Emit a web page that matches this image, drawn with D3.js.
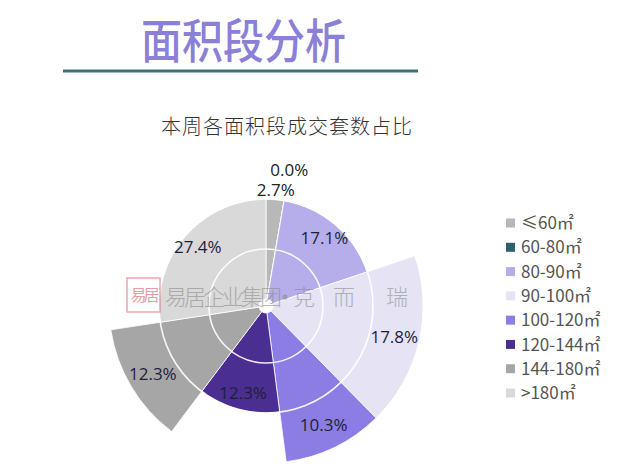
<!DOCTYPE html>
<html><head><meta charset="utf-8">
<script src="https://cdn.jsdelivr.net/npm/d3@7"></script>
<style>
html,body{margin:0;padding:0;background:#fff;}
svg{display:block;}
</style></head>
<body>
<svg id="chart" width="625" height="475"></svg>
<script>
// ---- data ----
const categories = ["≤60㎡","60-80㎡","80-90㎡","90-100㎡","100-120㎡","120-144㎡","144-180㎡",">180㎡"];
const shares     = [2.7, 0.0, 17.1, 17.8, 10.3, 12.3, 12.3, 27.4];
const rings      = [2, 2, 2, 3, 3, 2, 3, 2];   // how many rings each sector reaches
const colors     = ["#b8b8b8","#2e6070","#b5aeea","#e6e3f5","#8b7de3","#4b2e91","#a6a6a6","#d9d9d9"];
const mainTitle  = "面积段分析";
const subTitle   = "本周各面积段成交套数占比";

const svg = d3.select("#chart");
const cx = 266, cy = 306;

// title
svg.append("text").attr("x", 141).attr("y", 58)
  .attr("font-family","'Noto Sans CJK SC'").attr("font-weight",500)
  .attr("font-size",41).attr("fill","#8b80d8")
  .attr("transform","translate(0,-8) scale(1,1.13)")
  .text(mainTitle);
svg.append("line").attr("x1",63).attr("x2",418).attr("y1",71).attr("y2",71)
  .attr("stroke","#3f6e7e").attr("stroke-width",3);

svg.append("text").attr("x", 287).attr("y", 134).attr("text-anchor","middle")
  .attr("font-family","'Noto Sans CJK SC'").attr("font-weight",300)
  .attr("font-size",20).attr("letter-spacing",1).attr("fill","#333")
  .text(subTitle);

// scales
const r = d3.scaleLinear().domain([0,3]).range([7,157]);
const pie = d3.pie().sort(null).value(d => d.v).startAngle(0).endAngle(2*Math.PI);
const data = categories.map((c,i)=>({c, v: shares[i], ring: rings[i], color: colors[i]}));
const arcs = pie(data);
const arc = d3.arc().innerRadius(r(0)).outerRadius(d => r(d.data.ring));

const g = svg.append("g").attr("transform",`translate(${cx},${cy})`);
g.selectAll("path.sector").data(arcs).join("path").attr("class","sector")
  .attr("d", arc).attr("fill", d=>d.data.color)
  .attr("stroke","#fff").attr("stroke-width",1).attr("stroke-opacity",0.8);

// ring gridlines
g.selectAll("circle.grid").data([1,2]).join("circle").attr("class","grid")
  .attr("r", d=>r(d)).attr("fill","none").attr("stroke","#fff").attr("stroke-width",1.6).attr("stroke-opacity",0.9);
g.append("circle").attr("r", r(0)).attr("fill","#fff");

// watermark
const wm = svg.append("g").attr("opacity",0.6);
wm.append("rect").attr("x",127).attr("y",278).attr("width",33).attr("height",34)
  .attr("fill","#fff").attr("fill-opacity",0.5).attr("stroke","#d97078").attr("stroke-width",1.5);
wm.append("text").attr("x",143.5).attr("y",301).attr("text-anchor","middle")
  .attr("font-family","'Noto Sans CJK SC'").attr("font-size",16).attr("fill","#d0606a")
  .attr("letter-spacing",-3).text("易居");
const wmChars = [["易居企业集团",165],["克",293],["而",333],["瑞",386]];
wmChars.forEach(([t,x])=>{
  wm.append("text").attr("x",x).attr("y",305)
    .attr("font-family","'Noto Sans CJK SC'").attr("font-weight",300).attr("font-size",22)
    .attr("fill","#8c8c8c").attr("letter-spacing", t.length>1?-3:0).text(t);
});
wm.append("circle").attr("cx",285).attr("cy",297).attr("r",2.6).attr("fill","#8c8c8c");

// labels
const fmt = d => d3.format(".1f")(d) + "%";
let smallIdx = 0;
arcs.forEach(a => {
  const mid = (a.startAngle + a.endAngle)/2;
  let rad;
  if (a.data.v < 5) { rad = r(a.data.ring) + 9 + 22*smallIdx; smallIdx++; }
  else rad = r(a.data.ring) * 0.84;
  const x = cx + rad*Math.sin(mid), y = cy - rad*Math.cos(mid);
  svg.append("text").attr("x",x).attr("y",y).attr("text-anchor","middle").attr("dy","0.35em")
    .attr("font-family","'Open Sans'").attr("font-size",17)
    .attr("fill", a.data.v<5 ? "#222" : "#1e1e3a").text(fmt(a.data.v));
});

// legend
const ly = d3.scalePoint().domain(categories).range([223,393]);
const lg = svg.append("g");
categories.forEach((c,i)=>{
  lg.append("rect").attr("x",506).attr("y",ly(c)-4.5).attr("width",9).attr("height",9).attr("fill",colors[i]);
  lg.append("text").attr("x",521).attr("y",ly(c)).attr("dy","0.36em")
    .attr("font-family","'Noto Sans CJK SC'").attr("font-size",17).attr("fill","#555").text(c);
});
</script>
</body></html>
